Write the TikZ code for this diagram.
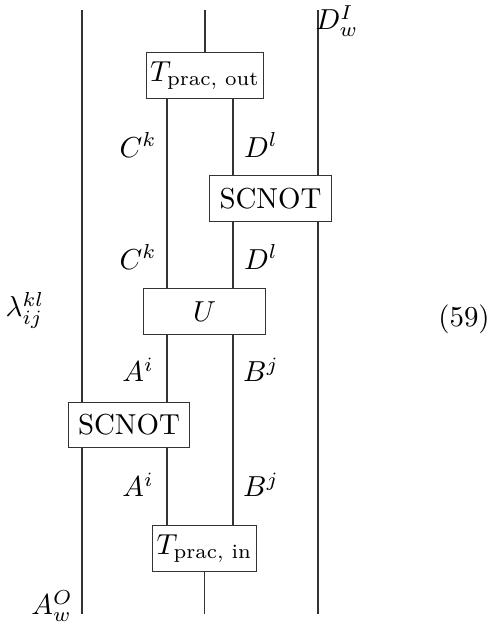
\documentclass[tikz,border=0pt]{standalone}
\usepackage{amsmath}
\usetikzlibrary{calc}
\begin{document}
\begin{tikzpicture}[x=0.346pt,y=-0.346pt,
  gate/.style={draw=black!80,rectangle,inner sep=0pt,minimum height=15.6pt,line width=0.35pt},
  wire/.style={draw=black!80,line width=0.35pt},
  lab/.style={inner sep=0pt}]
\useasboundingbox (0,0) rectangle (489,625);
% boxes
\node[gate,minimum width=40.8pt] (tout) at (205,75.5) {$T_{\text{prac, out}}$};
\node[gate,minimum width=41.9pt] (sc1) at (270.5,198.5) {SCNOT};
\node[gate,minimum width=41.9pt] (u) at (204.5,311.5) {$U$};
\node[gate,minimum width=42.2pt] (sc2) at (129,425) {SCNOT};
\node[gate,minimum width=36.3pt] (tin) at (204.5,548.5) {$T_{\text{prac, in}}$};
% wire endpoints
\coordinate (ltop) at (82,10);
\coordinate (lbot) at (82,614);
\coordinate (mtop) at (205,10);
\coordinate (mbot) at (205,614);
\coordinate (rtop) at (318,10);
\coordinate (rbot) at (318,614);
% outer wires
\draw[wire] (ltop) -- (ltop |- sc2.north);
\draw[wire] (lbot |- sc2.south) -- (lbot);
\draw[wire] (tout.north |- mtop) -- (tout.north);
\draw[wire] (tin.south) -- (tin.south |- mbot);
\draw[wire] (rtop) -- (rtop |- sc1.north);
\draw[wire] (rbot |- sc1.south) -- (rbot);
% C wire (x=167)
\draw[wire] (167,0 |- tout.south) -- (167,0 |- u.north);
\draw[wire] (167,0 |- u.south) -- (167,0 |- sc2.north);
\draw[wire] (167,0 |- sc2.south) -- (167,0 |- tin.north);
% D wire (x=233)
\draw[wire] (233,0 |- tout.south) -- (233,0 |- sc1.north);
\draw[wire] (233,0 |- sc1.south) -- (233,0 |- u.north);
\draw[wire] (233,0 |- u.south) -- (233,0 |- tin.north);
% labels
\node[lab] (c1) at (138,145) {$C^k$};
\node[lab] (d1) at (261,145) {$D^l$};
\node[lab] (c2) at (138,257) {$C^k$};
\node[lab] (d2) at (261,257) {$D^l$};
\node[lab] (a1) at (138,370) {$A^i$};
\node[lab] (b1) at (261,370) {$B^j$};
\node[lab] (a2) at (138,485) {$A^i$};
\node[lab] (b2) at (261,485) {$B^j$};
\node[lab] (lam) at (25,310) {$\lambda_{ij}^{kl}$};
\node[lab] (eq) at (464,319) {(59)};
\node[lab] (dw) at (337,21) {$D_w^I$};
\node[lab] (aw) at (52,606) {$A_w^O$};
\end{tikzpicture}
\end{document}
